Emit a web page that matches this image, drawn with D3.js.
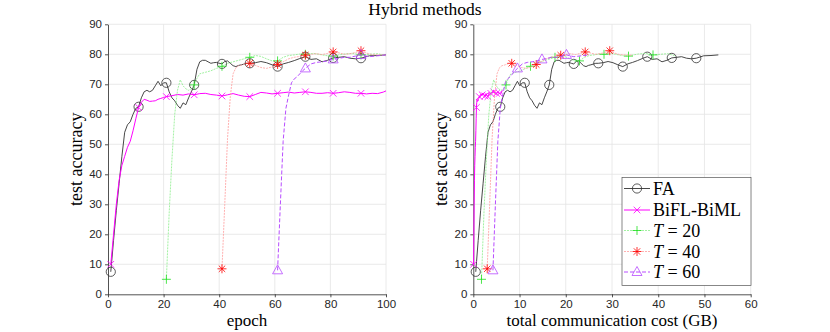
<!DOCTYPE html>
<html>
<head>
<meta charset="utf-8">
<title>Hybrid methods</title>
<script src="https://cdn.jsdelivr.net/npm/d3@7/dist/d3.min.js"></script>
<style>
  body {margin:0; background:#fff;}
  .tick text {font-family:"Liberation Sans", Arial, sans-serif; font-size:11.5px; fill:#262626;}
  .lbl {font-family:"Liberation Serif", "Times New Roman", serif; fill:#000;}
</style>
</head>
<body>
<script>
// accuracy (epoch -> test accuracy)
var faEpoch = [1,2,3,4,5,6,7,8,9,10,11,12,13,14,15,16,17,18,19,20,21,22,23,24,25,26,27,28,29,30,31,32,33,34,35,36,37,38,39,40,41,42,43,44,45,46,47,48,50,51,53,55,57,59,61,63,65,67,69,71,73,75,77,79,81,83,85,87,89,91,94,97,100];
var faAcc   = [7.5,18,28,37,46,54,56.5,57.5,60,62,62.5,65.5,67.5,68,67.5,68,69.5,71,69.5,70.5,70.5,67.5,65.5,64.5,63,62,63.8,63.2,65.5,67.5,69.8,75,77.5,78,78,77.5,77,77.2,77.3,77,76.8,77.6,77.8,77,76.2,75.9,76.3,76.5,77,77,77.2,77.6,77.2,76.5,75.9,76.8,77.3,77.9,78.6,79.2,78.3,78.5,77.5,78,78.8,79,79.2,78.7,78.5,78.7,79.5,79.6,79.8];

var biEpoch = [1,2,3,4,5,6,7,8,9,10,11,12,13,14,15,16,17,18,19,20,21,23,25,27,29,31,33,35,37,39,41,43,45,47,49,51,53,55,57,59,61,63,65,67,69,71,73,75,77,79,81,83,85,87,89,91,93,95,97,99,100];
var biAcc   = [10,20,30,38,43,46,49,51,54.5,58.5,62.3,64,65,64.7,64.3,64.4,64.5,65,65.3,65.6,65.9,66.2,66.6,66.4,66.8,66.5,66.9,67,66.6,66.4,66.1,66.5,66.9,66.4,66,65.9,66.6,67.3,67.1,66.8,67,67.2,67.4,67.1,67.3,67.5,67.3,67,67,67.2,67,67.2,67.5,67.3,67,67,66.8,67,66.9,67.4,67.8];

var t20Epoch = [21,22,23,24,25,26,27,28,29,30,31,32,33,35,37,39,41,43,45,47,49,51,53,55,57,59,61,63,65,67,69,71,74,77,79,81,83,85,88,91,94,97,100];
var t20Acc   = [5,27,45,60,68,71.5,69.5,68.5,68,68.5,69.8,72,73.5,74,74.5,75.3,76,77,77.5,78,78.5,79,79.6,79.3,78.5,77.8,77.8,79,79.6,79.8,80.1,80,80.3,79.8,79.5,79.4,79.8,80.1,80.3,79.8,80,80.2,79.5];

var t40Epoch = [41,42,43,44,45,46,47,48,49,50,51,53,55,57,59,61,63,65,67,69,71,73,75,77,79,81,83,85,87,89,91,93,95,97,100];
var t40Acc   = [8.5,30,52,66,73.5,75.5,76.2,76.4,76.7,77,77,76.3,75.6,75.3,75.8,76.6,77.5,78.5,79,79.3,79.7,80,80.2,79.9,80.3,80.8,80.5,80,80.2,80.6,81.2,80.4,79.9,79.8,79.7];

var t60Epoch = [61,62,63,64,65,66,67,68,69,70,71,73,75,77,79,81,83,85,87,89,91,94,97,100];
var t60Acc   = [8,30,51,62,66.5,70.5,71.8,72.5,73.5,74.5,75.3,76.8,77.3,77.5,77.8,78.3,78.6,79,79,79.4,79.8,79.2,79.5,79.8];

// communication cost per epoch (GB)
var costFA = 0.53;
var costBiFL = 0.062;

var yTicks = [0,10,20,30,40,50,60,70,80,90];
var epochTicks = [0,20,40,60,80,100];
var costTicks = [0,10,20,30,40,50,60];

var series = [
  {epoch: faEpoch, acc: faAcc, T: null, kind: "fa", color: "#333", markColor: "#333", width: 0.9, dash: null, marker: "circle", name: "FA"},
  {epoch: biEpoch, acc: biAcc, T: null, kind: "bi", color: "#ff00ff", markColor: "#ff00ff", width: 1, dash: null, marker: "x", name: "BiFL-BiML"},
  {epoch: t20Epoch, acc: t20Acc, T: 20, kind: "hy", color: "#8aee8a", markColor: "#1ee01e", width: 0.8, dash: "2,1", marker: "plus", name: "20"},
  {epoch: t40Epoch, acc: t40Acc, T: 40, kind: "hy", color: "#ff9c9c", markColor: "#ff0000", width: 0.8, dash: "2,1", marker: "star", name: "40"},
  {epoch: t60Epoch, acc: t60Acc, T: 60, kind: "hy", color: "#b84dff", markColor: "#b84dff", width: 1, dash: "4,2", marker: "tri", name: "60"}
];

// cumulative cost: hybrids run BiFL-BiML for T epochs, then FA
function cost(s, e) {
  if (s.kind == "fa") return e * costFA;
  if (s.kind == "bi") return e * costBiFL;
  return s.T * costBiFL + (e - s.T) * costFA;
}

var svg = d3.select("body").append("svg")
  .attr("width", 830).attr("height", 332);

var y = d3.scaleLinear().domain([0, 90]).range([294.3, 24.3]);

function markerPath(type) {
  if (type == "x") return "M-3.3,-3.3L3.3,3.3M-3.3,3.3L3.3,-3.3";
  if (type == "plus") return "M-4.5,0L4.5,0M0,-4.5L0,4.5";
  if (type == "star") return "M-4.5,0L4.5,0M0,-4.5L0,4.5M-3.2,-3.2L3.2,3.2M-3.2,3.2L3.2,-3.2";
  if (type == "tri") return "M0,-5.5L5,3.5L-5,3.5Z";
  return null;
}

function drawMarker(g, type, color, cx, cy) {
  if (type == "circle") {
    g.append("circle").attr("cx", cx).attr("cy", cy).attr("r", 4.6)
      .attr("fill", "none").attr("stroke", color).attr("stroke-width", 0.8);
  } else {
    g.append("path").attr("d", markerPath(type))
      .attr("transform", "translate(" + cx + "," + cy + ")")
      .attr("fill", "none").attr("stroke", color).attr("stroke-width", 0.8);
  }
}

function panel(x0, x1, domain, ticks, xFn, xLabel) {
  var x = d3.scaleLinear().domain(domain).range([x0, x1]);
  var g = svg.append("g");

  // grid
  g.selectAll(".gx").data(ticks.slice(1)).enter().append("line")
    .attr("x1", d => x(d)).attr("x2", d => x(d))
    .attr("y1", y(0)).attr("y2", y(90))
    .attr("stroke", "#e5e5e5").attr("stroke-width", 0.8);
  g.selectAll(".gy").data(yTicks.slice(1)).enter().append("line")
    .attr("x1", x0).attr("x2", x1)
    .attr("y1", d => y(d)).attr("y2", d => y(d))
    .attr("stroke", "#e5e5e5").attr("stroke-width", 0.8);

  // axes
  var ax = g.append("g").attr("transform", "translate(0," + y(0) + ")")
    .call(d3.axisBottom(x).tickValues(ticks).tickSize(3).tickPadding(2.5).tickSizeOuter(0));
  var ay = g.append("g").attr("transform", "translate(" + x0 + ",0)")
    .call(d3.axisLeft(y).tickValues(yTicks).tickSize(3).tickSizeOuter(0));
  [ax, ay].forEach(function (a) {
    a.select(".domain").attr("stroke", "#262626").attr("stroke-width", 0.8);
    a.selectAll(".tick line").attr("stroke", "#262626").attr("stroke-width", 0.8);
  });

  // lines
  series.forEach(function (s) {
    var pts = s.epoch.map((e, i) => [x(xFn(s, e)), y(s.acc[i])]);
    g.append("path").datum(pts)
      .attr("d", d3.line())
      .attr("fill", "none").attr("stroke", s.color)
      .attr("stroke-width", s.width)
      .attr("stroke-dasharray", s.dash);
    var mg = g.append("g");
    s.epoch.forEach(function (e, i) {
      if (e % 10 == 1) drawMarker(mg, s.marker, s.markColor, x(xFn(s, e)), y(s.acc[i]));
    });
  });

  // labels
  svg.append("text").attr("class", "lbl")
    .attr("x", (x0 + x1) / 2).attr("y", 325.5)
    .attr("text-anchor", "middle").attr("font-size", 17).text(xLabel);
  svg.append("text").attr("class", "lbl")
    .attr("transform", "translate(" + (x0 - 26) + "," + (y(45)) + ") rotate(-90)")
    .attr("text-anchor", "middle").attr("font-size", 18).text("test accuracy");
}

panel(108, 386, [0, 100], epochTicks, (s, e) => e, "epoch");
panel(473.3, 750.7, [0, 60], costTicks, cost, "total communication cost (GB)");

svg.append("text").attr("class", "lbl")
  .attr("x", 425).attr("y", 14.5).attr("text-anchor", "middle")
  .attr("font-size", 17.5).text("Hybrid methods");

// legend
var lg = svg.append("g");
lg.append("rect").attr("x", 622).attr("y", 177.5).attr("width", 129).attr("height", 108)
  .attr("fill", "#fff").attr("stroke", "#555").attr("stroke-width", 0.7);
var rowY = [188.5, 210, 230.5, 251.5, 272];
series.forEach(function (s, i) {
  var yy = rowY[i];
  lg.append("line").attr("x1", 624).attr("x2", 650).attr("y1", yy).attr("y2", yy)
    .attr("stroke", s.color).attr("stroke-width", s.width).attr("stroke-dasharray", s.dash);
  drawMarker(lg, s.marker, s.markColor, 637, yy);
  var t = lg.append("text").attr("class", "lbl").attr("x", 653).attr("y", yy + 6)
    .attr("font-size", 18);
  if (s.T) {
    t.append("tspan").attr("font-style", "italic").text("T");
    t.append("tspan").text(" = " + s.name);
  } else {
    t.text(s.name);
  }
});
</script>
</body>
</html>
